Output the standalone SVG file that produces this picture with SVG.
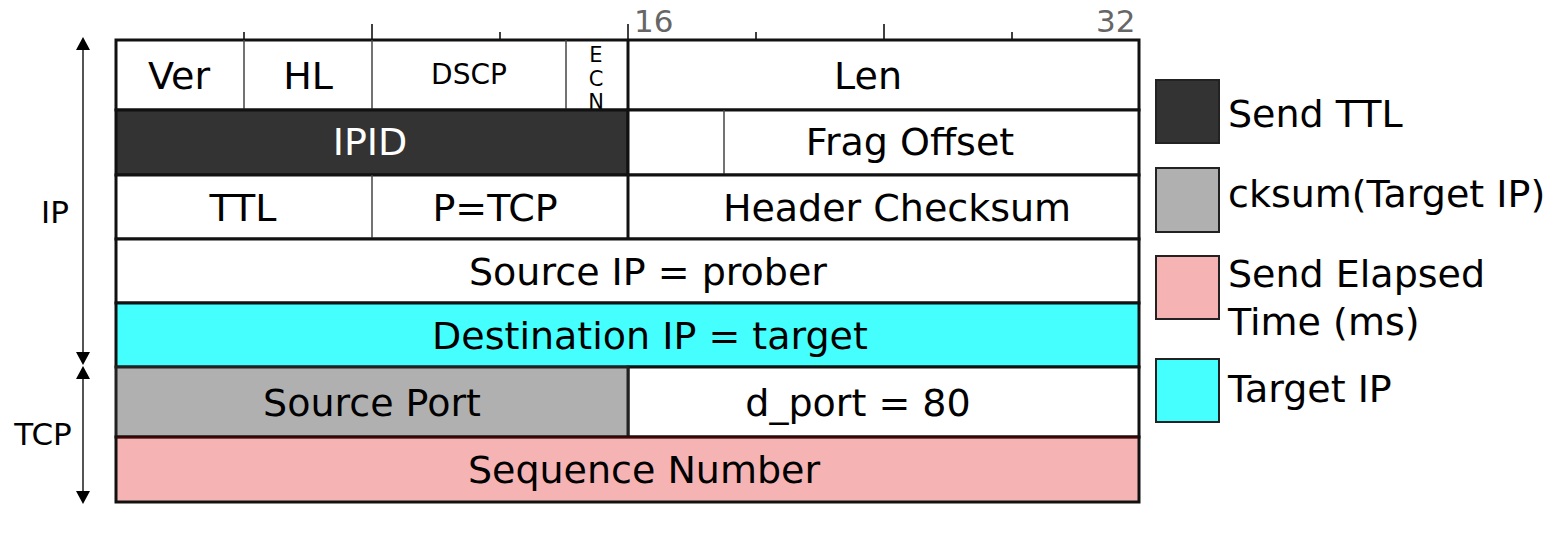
<svg xmlns="http://www.w3.org/2000/svg" width="1554" height="538" viewBox="0 0 1554 538">
<style>
text{font-family:"DejaVu Sans","Liberation Sans",sans-serif;fill:#000;text-anchor:middle}
.f{font-size:38px}
.s{font-size:28px}
.e{font-size:21px}
.n{font-size:31px;fill:#666;text-anchor:start}
.lg{font-size:38px;text-anchor:start}
.lb{font-size:31px}
.cell{stroke:#111;stroke-width:3}
.div{stroke:#444;stroke-width:1.5}
.tick{stroke:#000;stroke-width:1.5}
.key{stroke:#222;stroke-width:2}
.ar{stroke:#555;stroke-width:2;fill:none}
.hd{fill:#000}
</style>
<rect width="1554" height="538" fill="#fff"/>
<g id="scale">
<line class="tick" x1="244" y1="32" x2="244" y2="40"/>
<line class="tick" x1="372" y1="24" x2="372" y2="40"/>
<line class="tick" x1="500" y1="32" x2="500" y2="40"/>
<line class="tick" x1="628" y1="24" x2="628" y2="40"/>
<line class="tick" x1="756" y1="32" x2="756" y2="40"/>
<line class="tick" x1="884" y1="24" x2="884" y2="40"/>
<line class="tick" x1="1012" y1="32" x2="1012" y2="40"/>
<text class="n" x="634" y="32">16</text>
<text class="n" x="1096" y="32">32</text>
</g>
<g id="row1">
<rect class="cell" x="116" y="40" width="1023" height="70" fill="#fff"/>
<line class="div" x1="244" y1="40" x2="244" y2="110"/>
<line class="div" x1="372" y1="40" x2="372" y2="110"/>
<line class="div" x1="566" y1="40" x2="566" y2="110"/>
<line class="cell" x1="628" y1="40" x2="628" y2="110"/>
<text class="f" x="179" y="89">Ver</text>
<text class="f" x="308" y="89">HL</text>
<text class="s" x="469" y="84">DSCP</text>
<text class="e" x="596" y="62">E</text>
<text class="e" x="596" y="86">C</text>
<text class="e" x="596" y="109">N</text>
<text class="f" x="868" y="89">Len</text>
</g>
<g id="row2">
<rect class="cell" x="116" y="110" width="512" height="65" fill="#333"/>
<rect class="cell" x="628" y="110" width="511" height="65" fill="#fff"/>
<line class="div" x1="724" y1="110" x2="724" y2="175"/>
<text class="f" x="370" y="155" style="fill:#fff">IPID</text>
<text class="f" x="910" y="155">Frag Offset</text>
</g>
<g id="row3">
<rect class="cell" x="116" y="175" width="1023" height="64" fill="#fff"/>
<line class="div" x1="372" y1="175" x2="372" y2="239"/>
<line class="cell" x1="628" y1="175" x2="628" y2="239"/>
<text class="f" x="243" y="221">TTL</text>
<text class="f" x="495" y="221">P=TCP</text>
<text class="f" x="897" y="221">Header Checksum</text>
</g>
<g id="row4">
<rect class="cell" x="116" y="239" width="1023" height="64" fill="#fff"/>
<text class="f" x="648" y="285">Source IP = prober</text>
</g>
<g id="row5">
<rect class="cell" x="116" y="303" width="1023" height="64" fill="#45ffff"/>
<text class="f" x="650" y="349">Destination IP = target</text>
</g>
<g id="row6">
<rect class="cell" x="628" y="367" width="511" height="70" fill="#fff"/>
<rect x="116" y="367" width="512" height="70" fill="#b0b0b0" stroke="#222" stroke-width="3"/>
<text class="f" x="372" y="416">Source Port</text>
<text class="f" x="858" y="416">d_port = 80</text>
</g>
<g id="row7">
<rect x="116" y="437" width="1023" height="65" fill="#f6b3b3" stroke="#111" stroke-width="3"/>
<line x1="117" y1="437.5" x2="1138" y2="437.5" stroke="#500" stroke-width="1.5"/>
<text class="f" x="644" y="483">Sequence Number</text>
</g>
<g id="legend">
<g id="key-ttl"><rect class="key" x="1156" y="80" width="63" height="63" fill="#333"/><text class="lg" x="1228" y="127">Send TTL</text></g>
<g id="key-cksum"><rect class="key" x="1156" y="168" width="63" height="64" fill="#b0b0b0"/><text class="lg" x="1228" y="207">cksum(Target IP)</text></g>
<g id="key-time"><rect class="key" x="1156" y="256" width="63" height="63" fill="#f6b3b3"/><text class="lg" x="1228" y="287">Send Elapsed</text><text class="lg" x="1228" y="335">Time (ms)</text></g>
<g id="key-target"><rect class="key" x="1156" y="359" width="63" height="63" fill="#45ffff"/><text class="lg" x="1228" y="402">Target IP</text></g>
</g>
<g id="connectors">
<line class="ar" x1="83" y1="45" x2="83" y2="358"/>
<polygon class="hd" points="83,37 76,50 90,50"/>
<polygon class="hd" points="83,365 76,352 90,352"/>
<line class="ar" x1="83" y1="372" x2="83" y2="497"/>
<polygon class="hd" points="83,366 76,379 90,379"/>
<polygon class="hd" points="83,504 76,491 90,491"/>
<text class="lb" x="55" y="223">IP</text>
<text class="lb" x="43" y="445">TCP</text>
</g>
</svg>
